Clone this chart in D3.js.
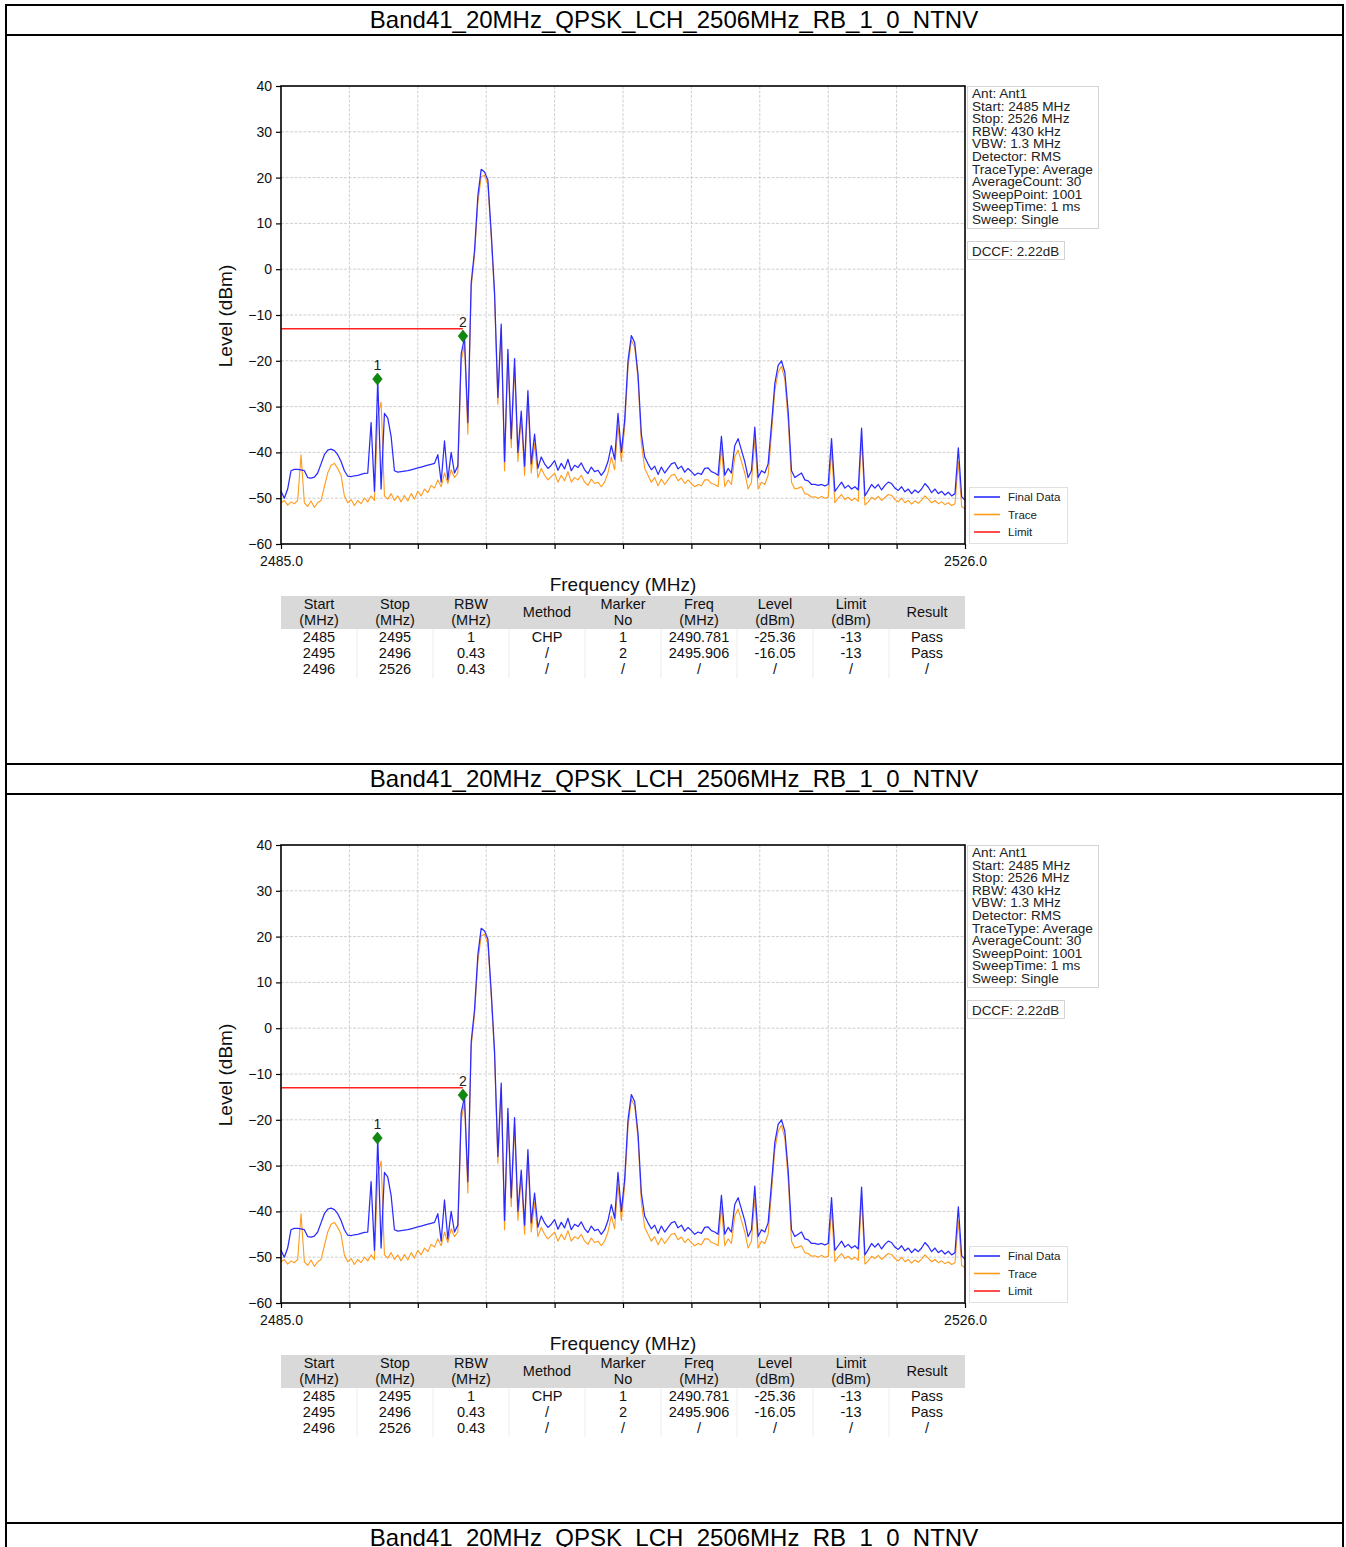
<!DOCTYPE html>
<html><head><meta charset="utf-8">
<script src="https://cdn.jsdelivr.net/npm/d3@7"></script>
<style>body{margin:0;background:#fff}svg{display:block}</style>
</head><body>
<script>
// ---------------- data ----------------
const pageTitle = "Band41_20MHz_QPSK_LCH_2506MHz_RB_1_0_NTNV";
const sweepStartMHz = 2485, sweepStopMHz = 2526, sweepStepMHz = 0.2;

const finalData = [
-48.5,-50,-48,-44,-43.7,-43.7,-43.8,-44,-45.5,-45.6,
-45.4,-44.5,-42.5,-40.5,-39.5,-39.3,-39.6,-40.5,-42,-44,
-45.2,-45.3,-45.1,-45,-44.8,-44.6,-44.5,-33.5,-48.5,-24,
-48,-31.5,-32.5,-36.5,-44,-44.3,-44.2,-44.1,-44,-43.8,
-43.6,-43.4,-43.2,-43,-42.8,-42.6,-42.4,-40.5,-46.5,-37.5,
-46,-40,-44.5,-43,-18.5,-15,-33.5,-3,4,16,
21.8,21.2,19.5,8,-5,-28,-12,-42,-17.5,-37,
-19.5,-40,-31,-43,-26.5,-42.5,-36,-43.5,-41,-42.5,
-43.5,-42.8,-41.8,-43.9,-42.4,-43.6,-41.5,-44,-42.8,-43.3,
-42.3,-43.8,-44.6,-43.2,-44.2,-43.9,-45,-44,-42,-38.5,
-41.5,-31.5,-40,-33,-20,-14.5,-16,-23,-36,-41,
-42.5,-43.8,-43,-44.8,-43.2,-44.5,-43.5,-42.5,-42.2,-43.6,
-43,-44.3,-43.5,-44.2,-45,-44.5,-44.8,-43.5,-43.4,-44.2,
-44.5,-45,-36.5,-45,-43.5,-44.5,-38.5,-37,-39.5,-42,
-45.5,-44,-34.5,-45.5,-44,-44.5,-42.5,-34,-25,-21,
-20,-22.5,-31,-44,-45.5,-45,-44.5,-46,-46.2,-47,
-47,-47.2,-47,-47.3,-47,-37,-48.5,-47.5,-46.5,-47.8,
-47.2,-48,-47.5,-48.2,-34.7,-49.5,-48.3,-47,-47.8,-47,
-48.2,-47.2,-46.5,-46.8,-47.8,-48.3,-47.5,-48.6,-48,-49,
-48.2,-48.8,-48,-46.8,-47.6,-48.8,-48,-49,-48.5,-49.3,
-48.7,-49.5,-49,-39,-49.7,-50.4
];

const traceData = [
-51,-50.5,-51.5,-50.8,-51.2,-50.5,-40.5,-51,-51.8,-50.6,
-52,-51,-50.5,-47.5,-44.5,-42.8,-42.4,-43.5,-45,-49.5,
-51,-50.3,-51.6,-50.5,-51.2,-50,-50.8,-49.5,-50.5,-32,
-29,-49.5,-50.2,-49,-50.5,-49.5,-50.8,-49.4,-50.6,-49,
-50.2,-48.5,-49.5,-48,-48.8,-47.2,-47.8,-46,-47.5,-44.5,
-46.8,-43.8,-45.5,-44.5,-20,-16.5,-36,-4,3,14.5,
20.2,20.5,18.5,7,-6,-29.5,-13,-44,-18.5,-39,
-21,-42,-32.5,-45,-28,-44.5,-38,-45.5,-43.5,-45,
-46,-45.3,-44.5,-46.5,-45,-46.2,-44.2,-46.5,-45.5,-46,
-45,-46.5,-47.2,-45.8,-46.8,-46.5,-47.5,-46.5,-44.5,-41,
-43.8,-34,-42,-34.5,-21.5,-15.5,-17,-24,-38,-43.5,
-45,-46.5,-45.5,-47.3,-45.8,-47,-46,-45,-44.8,-46.2,
-45.6,-46.8,-46,-46.8,-47.5,-47,-47.3,-46,-46,-46.8,
-47,-47.5,-39,-47.5,-46,-47,-41,-39.5,-42,-44.5,
-48,-46.5,-37,-48,-46.5,-47,-45,-36,-26.5,-22.5,
-21.2,-24,-33,-46.5,-48,-47.8,-47.5,-49,-49.2,-49.8,
-49.7,-50,-49.6,-50,-49.8,-39.5,-51,-50,-49.2,-50.3,
-49.8,-50.5,-50,-50.7,-37,-51.5,-50.8,-49.8,-50.3,-49.6,
-50.5,-49.8,-49.2,-49.4,-50.3,-50.8,-50,-51,-50.5,-51.3,
-50.6,-51.1,-50.4,-49.5,-50.2,-51,-50.5,-51.2,-50.8,-51.4,
-51,-51.6,-51.2,-42,-51.8,-52.3
];

const limitFreq  = [2485, 2495.9];
const limitLevel = [-13, -13];

const markerNo    = ["1", "2"];
const markerFreq  = [2490.78, 2495.906];
const markerLevel = [-24, -14.6];

const yTicks      = [40, 30, 20, 10, 0, -10, -20, -30, -40, -50, -60];
const yTickLabels = ["40","30","20","10","0","\u221210","\u221220","\u221230","\u221240","\u221250","\u221260"];
const xTicks      = [2485, 2489.1, 2493.2, 2497.3, 2501.4, 2505.5, 2509.6, 2513.7, 2517.8, 2521.9, 2526];
const xTickLabels = ["2485.0","","","","","","","","","","2526.0"];

const xAxisTitle = "Frequency (MHz)";
const yAxisTitle = "Level (dBm)";

const infoLines = ["Ant: Ant1","Start: 2485 MHz","Stop: 2526 MHz","RBW: 430 kHz","VBW: 1.3 MHz",
  "Detector: RMS","TraceType: Average","AverageCount: 30","SweepPoint: 1001","SweepTime: 1 ms","Sweep: Single"];
const dccfText = "DCCF: 2.22dB";

const legendNames  = ["Final Data", "Trace", "Limit"];
const legendColors = ["#2b2bff", "#ff9a1a", "#ff2020"];

const tableHead1 = ["Start","Stop","RBW","Method","Marker","Freq","Level","Limit","Result"];
const tableHead2 = ["(MHz)","(MHz)","(MHz)","","No","(MHz)","(dBm)","(dBm)",""];
const tableRows = [
  ["2485","2495","1","CHP","1","2490.781","-25.36","-13","Pass"],
  ["2495","2496","0.43","/","2","2495.906","-16.05","-13","Pass"],
  ["2496","2526","0.43","/","/","/","/","/","/"]
];

// ---------------- drawing ----------------
const W = 1346, H = 1547, PERIOD = 759;
const svg = d3.select("body").append("svg").attr("width", W).attr("height", H)
  .style("font-family", "'Liberation Sans', Arial, sans-serif");

svg.append("rect").attr("width", W).attr("height", H).attr("fill", "#fff");

const freqs = d3.range(finalData.length).map(i => sweepStartMHz + i * sweepStepMHz);

const m = {left: 281, right: 965, top: 86, bottom: 544};
const x = d3.scaleLinear().domain([sweepStartMHz, sweepStopMHz]).range([m.left, m.right]);
const y = d3.scaleLinear().domain([-60, 40]).range([m.bottom, m.top]);

function drawTitle(oy) {
  svg.append("line").attr("x1", 5).attr("x2", 1344).attr("y1", oy + 5).attr("y2", oy + 5)
    .attr("stroke", "#000").attr("stroke-width", 2);
  svg.append("line").attr("x1", 5).attr("x2", 1344).attr("y1", oy + 35).attr("y2", oy + 35)
    .attr("stroke", "#000").attr("stroke-width", 2);
  svg.append("text").attr("x", 674).attr("y", oy + 28).attr("text-anchor", "middle")
    .attr("font-size", 24).attr("fill", "#000").text(pageTitle);
}

function drawPanel(oy) {
  const g = svg.append("g").attr("transform", `translate(0,${oy})`);

  // grid
  g.append("g").selectAll("line").data(xTicks.slice(1, -1)).join("line")
    .attr("x1", d => x(d)).attr("x2", d => x(d)).attr("y1", m.top).attr("y2", m.bottom)
    .attr("stroke", "#cfcfcf").attr("stroke-width", 1).attr("stroke-dasharray", "3,1.5");
  g.append("g").selectAll("line").data(yTicks.slice(1, -1)).join("line")
    .attr("x1", m.left).attr("x2", m.right).attr("y1", d => y(d)).attr("y2", d => y(d))
    .attr("stroke", "#cfcfcf").attr("stroke-width", 1).attr("stroke-dasharray", "3,1.5");

  // axes
  const yAxis = d3.axisLeft(y).tickValues(yTicks).tickSize(5).tickPadding(4)
    .tickFormat((d, i) => yTickLabels[i]);
  const ya = g.append("g").attr("transform", `translate(${m.left},0)`).call(yAxis);
  const xAxis = d3.axisBottom(x).tickValues(xTicks).tickSize(5).tickPadding(4)
    .tickFormat((d, i) => xTickLabels[i]);
  const xa = g.append("g").attr("transform", `translate(0,${m.bottom})`).call(xAxis);
  [ya, xa].forEach(a => {
    a.select(".domain").remove();
    a.selectAll("text").attr("font-size", 14).attr("fill", "#111")
      .style("font-family", "'Liberation Sans', Arial, sans-serif");
    a.selectAll("line").attr("stroke", "#000").attr("stroke-width", 1.2);
  });
  xa.selectAll("text").attr("dy", "0.95em");

  g.append("text").attr("x", 623).attr("y", 591).attr("text-anchor", "middle")
    .attr("font-size", 19).attr("fill", "#111").text(xAxisTitle);
  g.append("text").attr("transform", "translate(232,316) rotate(-90)").attr("text-anchor", "middle")
    .attr("font-size", 19).attr("fill", "#111").text(yAxisTitle);

  // traces
  const line = d3.line().x((d, i) => x(freqs[i])).y(d => y(d));
  g.append("path").datum(traceData).attr("d", line).attr("fill", "none")
    .attr("stroke", legendColors[1]).attr("stroke-width", 1.1).attr("stroke-linejoin", "round");
  g.append("path").datum(finalData).attr("d", line).attr("fill", "none")
    .attr("stroke", legendColors[0]).attr("stroke-width", 1.25).attr("stroke-linejoin", "round");

  // limit
  const lline = d3.line().x((d, i) => x(limitFreq[i])).y(d => y(d));
  g.append("path").datum(limitLevel).attr("d", lline).attr("fill", "none")
    .attr("stroke", legendColors[2]).attr("stroke-width", 1.6);

  // markers
  markerFreq.forEach((f, i) => {
    const cx = x(f), cy = y(markerLevel[i]);
    g.append("path").attr("d", `M${cx},${cy - 6}L${cx + 4.8},${cy}L${cx},${cy + 6}L${cx - 4.8},${cy}Z`)
      .attr("fill", "#0f8a0f").attr("stroke", "#0a700a").attr("stroke-width", 0.6);
    g.append("text").attr("x", cx).attr("y", cy - 9).attr("text-anchor", "middle")
      .attr("font-size", 14).attr("fill", "#222").text(markerNo[i]);
  });

  // frame
  g.append("rect").attr("x", m.left).attr("y", m.top).attr("width", m.right - m.left)
    .attr("height", m.bottom - m.top).attr("fill", "none").attr("stroke", "#000").attr("stroke-width", 1.6);

  // info box
  g.append("rect").attr("x", 967.5).attr("y", 86.5).attr("width", 131).attr("height", 142)
    .attr("fill", "#fff").attr("stroke", "#d4d4d4");
  g.append("g").selectAll("text").data(infoLines).join("text")
    .attr("x", 972).attr("y", (d, i) => 98 + i * 12.6).attr("font-size", 13.6).attr("fill", "#222").text(d => d);
  g.append("rect").attr("x", 967.5).attr("y", 241.5).attr("width", 97).attr("height", 18)
    .attr("fill", "#fff").attr("stroke", "#d4d4d4");
  g.append("text").attr("x", 972).attr("y", 255.5).attr("font-size", 13.4).attr("fill", "#222").text(dccfText);

  // legend
  g.append("rect").attr("x", 969.5).attr("y", 487.5).attr("width", 98).attr("height", 56)
    .attr("fill", "#fff").attr("stroke", "#e0e0e0");
  legendNames.forEach((n, i) => {
    const ly = 497 + i * 17.5;
    g.append("line").attr("x1", 974).attr("x2", 1000).attr("y1", ly).attr("y2", ly)
      .attr("stroke", legendColors[i]).attr("stroke-width", 1.6);
    g.append("text").attr("x", 1008).attr("y", ly + 4).attr("font-size", 11.5).attr("fill", "#222").text(n);
  });

  // table
  const colW = (m.right - m.left) / tableHead1.length;
  const tg = g.append("g");
  tg.append("rect").attr("x", m.left).attr("y", 596).attr("width", m.right - m.left).attr("height", 33)
    .attr("fill", "#d9d9d9");
  for (let c = 1; c < tableHead1.length; c++) {
    tg.append("line").attr("x1", m.left + c * colW).attr("x2", m.left + c * colW)
      .attr("y1", 629).attr("y2", 678).attr("stroke", "#ececec");
  }
  tableHead1.forEach((h, c) => {
    const cx = m.left + (c + 0.5) * colW;
    if (tableHead2[c]) {
      tg.append("text").attr("x", cx).attr("y", 609).attr("text-anchor", "middle").attr("font-size", 14.5).attr("fill", "#111").text(h);
      tg.append("text").attr("x", cx).attr("y", 625).attr("text-anchor", "middle").attr("font-size", 14.5).attr("fill", "#111").text(tableHead2[c]);
    } else {
      tg.append("text").attr("x", cx).attr("y", 617).attr("text-anchor", "middle").attr("font-size", 14.5).attr("fill", "#111").text(h);
    }
  });
  tableRows.forEach((row, r) => {
    row.forEach((v, c) => {
      tg.append("text").attr("x", m.left + (c + 0.5) * colW).attr("y", 642 + r * 16)
        .attr("text-anchor", "middle").attr("font-size", 14.5).attr("fill", "#111").text(v);
    });
  });
}

drawTitle(0); drawPanel(0);
drawTitle(PERIOD); drawPanel(PERIOD);
drawTitle(2 * PERIOD);

// outer vertical borders
svg.append("line").attr("x1", 6).attr("x2", 6).attr("y1", 4).attr("y2", H).attr("stroke", "#000").attr("stroke-width", 2);
svg.append("line").attr("x1", 1343).attr("x2", 1343).attr("y1", 4).attr("y2", H).attr("stroke", "#000").attr("stroke-width", 2);
</script>
</body></html>
